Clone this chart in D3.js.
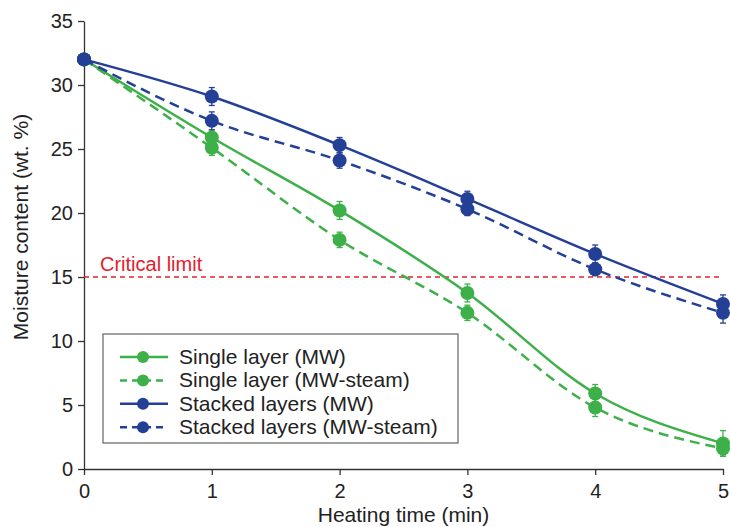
<!DOCTYPE html>
<html>
<head>
<meta charset="utf-8">
<script src="https://cdn.jsdelivr.net/npm/d3@7"></script>
<style>
  body { margin: 0; background: #fff; }
  svg text { font-family: "Liberation Sans", Arial, sans-serif; }
</style>
</head>
<body>
<div id="chart"></div>
<script>
const times = [0, 1, 2, 3, 4, 5];
const singleMW      = [32, 25.9, 20.2, 13.75, 5.9, 2.0];
const singleMWErr   = [0, 0.6, 0.7, 0.7, 0.7, 1.0];
const singleSteam   = [32, 25.1, 17.9, 12.2, 4.8, 1.6];
const singleSteamErr= [0, 0.6, 0.6, 0.6, 0.7, 0.6];
const stackMW       = [32, 29.1, 25.3, 21.1, 16.8, 12.9];
const stackMWErr    = [0, 0.7, 0.6, 0.6, 0.7, 0.7];
const stackSteam    = [32, 27.2, 24.1, 20.3, 15.6, 12.2];
const stackSteamErr = [0, 0.7, 0.6, 0.5, 0.5, 0.8];
const criticalLimit = 15;
const xTicks = [0, 1, 2, 3, 4, 5];
const yTicks = [0, 5, 10, 15, 20, 25, 30, 35];

const green = '#3db049', blue = '#243f96', red = '#e3202c';

const series = [
  { label: 'Single layer (MW)', vals: singleMW, err: singleMWErr, color: green, dash: null },
  { label: 'Single layer (MW-steam)', vals: singleSteam, err: singleSteamErr, color: green, dash: '10,6' },
  { label: 'Stacked layers (MW)', vals: stackMW, err: stackMWErr, color: blue, dash: null },
  { label: 'Stacked layers (MW-steam)', vals: stackSteam, err: stackSteamErr, color: blue, dash: '10,6' }
];

const width = 730, height = 527;
const margin = { top: 21, right: 7, bottom: 58, left: 84 };
const innerW = width - margin.left - margin.right;
const innerH = height - margin.top - margin.bottom;

const svg = d3.select('#chart').append('svg')
  .attr('width', width)
  .attr('height', height);

const g = svg.append('g')
  .attr('transform', `translate(${margin.left},${margin.top})`);

const x = d3.scaleLinear().domain([0, 5]).range([0, innerW]);
const y = d3.scaleLinear().domain([0, 35]).range([innerH, 0]);

// axes
const xAxisG = g.append('g')
  .attr('transform', `translate(0,${innerH})`)
  .call(d3.axisBottom(x).tickValues(xTicks).tickFormat(d3.format('d'))
    .tickSize(6).tickPadding(9).tickSizeOuter(0));
const yAxisG = g.append('g')
  .call(d3.axisLeft(y).tickValues(yTicks).tickSize(6).tickPadding(5).tickSizeOuter(0));

[xAxisG, yAxisG].forEach(a => {
  a.select('.domain').attr('stroke', '#333').attr('stroke-width', 1.3);
  a.selectAll('.tick line').attr('stroke', '#333').attr('stroke-width', 1.3);
  a.selectAll('.tick text').attr('fill', '#222').style('font-size', '20px');
});

// labels
g.append('text')
  .attr('x', innerW / 2)
  .attr('y', innerH + 53)
  .attr('text-anchor', 'middle')
  .attr('fill', '#222')
  .style('font-size', '21px')
  .text('Heating time (min)');

g.append('text')
  .attr('transform', 'rotate(-90)')
  .attr('x', -206)
  .attr('y', -56)
  .attr('text-anchor', 'middle')
  .attr('fill', '#222')
  .style('font-size', '21px')
  .text('Moisture content (wt. %)');

// critical limit
g.append('line')
  .attr('x1', 0).attr('x2', innerW)
  .attr('y1', y(criticalLimit)).attr('y2', y(criticalLimit))
  .attr('stroke', red)
  .attr('stroke-width', 1.3)
  .attr('stroke-dasharray', '5,4');

g.append('text')
  .attr('x', 16)
  .attr('y', y(criticalLimit) - 6)
  .attr('fill', red)
  .style('font-size', '20px')
  .text('Critical limit');

const line = d3.line()
  .curve(d3.curveMonotoneX)
  .x(d => x(d[0]))
  .y(d => y(d[1]));

series.forEach(s => {
  const pts = times.map((t, i) => [t, s.vals[i], s.err[i]]);
  const sg = g.append('g');

  sg.append('path')
    .attr('fill', 'none')
    .attr('stroke', s.color)
    .attr('stroke-width', 2.5)
    .attr('stroke-dasharray', s.dash)
    .attr('d', line(pts));

  const eb = sg.selectAll('g.err').data(pts.filter(p => p[2] > 0)).enter().append('g');
  eb.append('line')
    .attr('x1', d => x(d[0])).attr('x2', d => x(d[0]))
    .attr('y1', d => y(d[1] - d[2])).attr('y2', d => y(d[1] + d[2]))
    .attr('stroke', s.color).attr('stroke-width', 1.3);
  eb.append('line')
    .attr('x1', d => x(d[0]) - 3).attr('x2', d => x(d[0]) + 3)
    .attr('y1', d => y(d[1] + d[2])).attr('y2', d => y(d[1] + d[2]))
    .attr('stroke', s.color).attr('stroke-width', 1.3);
  eb.append('line')
    .attr('x1', d => x(d[0]) - 3).attr('x2', d => x(d[0]) + 3)
    .attr('y1', d => y(d[1] - d[2])).attr('y2', d => y(d[1] - d[2]))
    .attr('stroke', s.color).attr('stroke-width', 1.3);

  sg.selectAll('circle').data(pts).enter().append('circle')
    .attr('cx', d => x(d[0]))
    .attr('cy', d => y(d[1]))
    .attr('r', 7)
    .attr('fill', s.color);
});

// legend
const lg = g.append('g').attr('transform', 'translate(19,313)');
lg.append('rect')
  .attr('width', 355).attr('height', 109)
  .attr('fill', '#fff')
  .attr('stroke', '#444').attr('stroke-width', 1);

series.forEach((s, i) => {
  const ly = 23 + i * 23.4;
  lg.append('line')
    .attr('x1', 17).attr('x2', 65)
    .attr('y1', ly).attr('y2', ly)
    .attr('stroke', s.color).attr('stroke-width', 2.5)
    .attr('stroke-dasharray', s.dash ? '7,5' : null);
  lg.append('circle')
    .attr('cx', 40).attr('cy', ly).attr('r', 6)
    .attr('fill', s.color);
  lg.append('text')
    .attr('x', 76).attr('y', ly + 7)
    .attr('fill', '#222')
    .style('font-size', '21px')
    .text(s.label);
});
</script>
</body>
</html>
